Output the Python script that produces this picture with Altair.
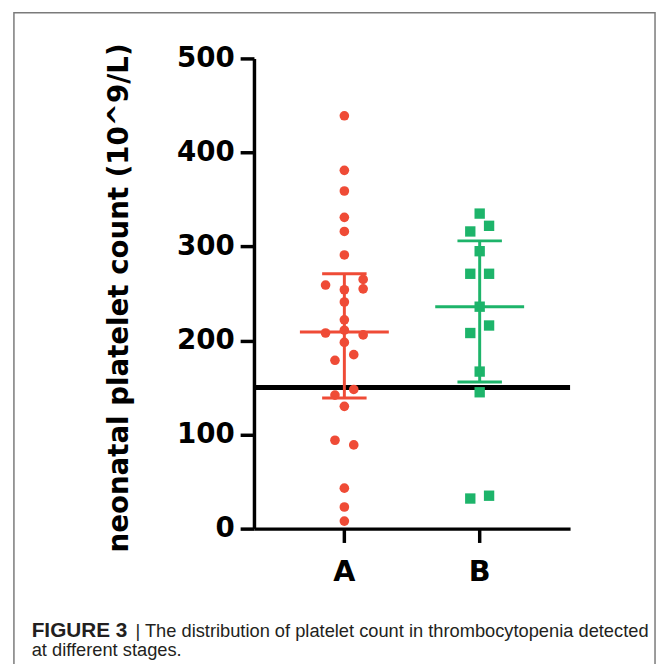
import altair as alt
import pandas as pd

# ---------------- data ----------------
groups = ["A", "B"]
a_values = [439, 381, 359, 331, 316, 291, 265, 259, 255, 254, 241, 222, 208, 211, 206,
            198, 185, 179, 148, 142, 130, 94, 89, 43, 23, 8]
a_slots = [0, 0, 0, 0, 0, 0, 2, -2, 2, 0, 0, 0, -2, 0, 2, 0, 1, -1, 1, -1, 0, -1, 1, 0, 0, 0]
b_values = [335, 322, 316, 295, 271, 271, 236, 216, 208, 167, 145, 32, 35]
b_slots = [0, 1, -1, 0, -1, 1, 0, 1, -1, 0, 0, -1, 1]
medians = [209, 236]
q1 = [139, 156]
q3 = [271, 306]
threshold = [150]
y_ticks = [0, 100, 200, 300, 400, 500]
colors = ["#EF4B36", "#1DB46A"]
y_title = "neonatal platelet count (10^9/L)"
caption_bold = "FIGURE 3"
caption_line1 = "| The distribution of platelet count in thrombocytopenia detected"
caption_line2 = "at different stages."

AXFONT = "DejaVu Sans"
CAPFONT = "Liberation Sans"
W, H = 320, 476

df_a = pd.DataFrame({"group": "A", "value": a_values, "slot": a_slots})
df_b = pd.DataFrame({"group": "B", "value": b_values, "slot": b_slots})
df_s = pd.DataFrame({"group": groups, "median": medians, "q1": q1, "q3": q3})
df_t = pd.DataFrame({"t": threshold})
df_one = pd.DataFrame({"k": [0]})

xscale = alt.Scale(domain=groups, paddingInner=0, paddingOuter=0.168)
yscale = alt.Scale(domain=[0, 500], nice=False)
cscale = alt.Scale(domain=groups, range=colors)

xaxis = alt.Axis(labelFontSize=29, labelFont=AXFONT, labelFontWeight="bold", labelColor="black",
                 labelAngle=0, labelPadding=16, tickSize=14, tickWidth=3.5, tickColor="black",
                 domainColor="black", domainWidth=3.5, grid=False)
yaxis = alt.Axis(values=y_ticks, labelFontSize=28, labelFont=AXFONT, labelFontWeight="bold",
                 labelColor="black", labelPadding=6, tickSize=14, tickWidth=3.5,
                 tickColor="black", domainColor="black", domainWidth=3.5, grid=False,
                 titleFontSize=28, titleFont=AXFONT, titleFontWeight="bold", titleColor="black",
                 titleX=-136, titleY=242, titleAngle=270, titleBaseline="middle",
                 titleAlign="center")


def X():
    return alt.X("group:N", scale=xscale, axis=xaxis, title=None)


def Y(field):
    return alt.Y(f"{field}:Q", scale=yscale, axis=yaxis, title=y_title)


color = alt.Color("group:N", scale=cscale, legend=None)
xoff = alt.XOffset("slot:Q", scale=alt.Scale(domain=[-7.2, 7.2], nice=False, zero=False))

thr = alt.Chart(df_t).mark_rule(color="black", strokeWidth=5).encode(
    y=Y("t"), x=alt.value(0), x2=alt.value(W))

pts_a = alt.Chart(df_a).mark_point(filled=True, shape="circle", size=95, opacity=1).encode(
    x=X(), xOffset=xoff, y=Y("value"), color=color)
pts_b = alt.Chart(df_b).mark_point(filled=True, shape="square", size=110, opacity=1).encode(
    x=X(), xOffset=xoff, y=Y("value"), color=color)

mid = alt.Chart(df_s).mark_tick(size=90, thickness=3, opacity=1).encode(
    x=X(), y=Y("median"), color=color)
cap_lo = alt.Chart(df_s).mark_tick(size=45, thickness=3, opacity=1).encode(
    x=X(), y=Y("q1"), color=color)
cap_hi = alt.Chart(df_s).mark_tick(size=45, thickness=3, opacity=1).encode(
    x=X(), y=Y("q3"), color=color)
vline = alt.Chart(df_s).mark_rule(strokeWidth=3).encode(
    x=X(), y=Y("q1"), y2="q3:Q", color=color)

border = alt.Chart(df_one).mark_rect(fillOpacity=0, stroke="#7a7a7a", strokeWidth=1.5).encode(
    x=alt.value(-243), x2=alt.value(406), y=alt.value(-46.25), y2=alt.value(640))

cap1 = alt.Chart(df_one).mark_text(align="left", baseline="alphabetic", font=CAPFONT,
                                   fontSize=21, fontWeight="bold", color="#231f20").encode(
    x=alt.value(-225), y=alt.value(586), text=alt.value(caption_bold))
cap2 = alt.Chart(df_one).mark_text(align="left", baseline="alphabetic", font=CAPFONT,
                                   fontSize=18.5, color="#231f20").encode(
    x=alt.value(-120), y=alt.value(586), text=alt.value(caption_line1))
cap3 = alt.Chart(df_one).mark_text(align="left", baseline="alphabetic", font=CAPFONT,
                                   fontSize=18.5, color="#231f20").encode(
    x=alt.value(-225), y=alt.value(605), text=alt.value(caption_line2))

chart = alt.layer(border, thr, pts_a, pts_b, vline, mid, cap_lo, cap_hi, cap1, cap2, cap3).properties(
    width=W, height=H,
    autosize=alt.AutoSizeParams(type="none"),
    padding={"left": 249, "top": 47, "right": 88, "bottom": 133},
).configure_view(stroke="transparent")

chart.save("out.html", embed_options={"renderer": "svg", "actions": False})
